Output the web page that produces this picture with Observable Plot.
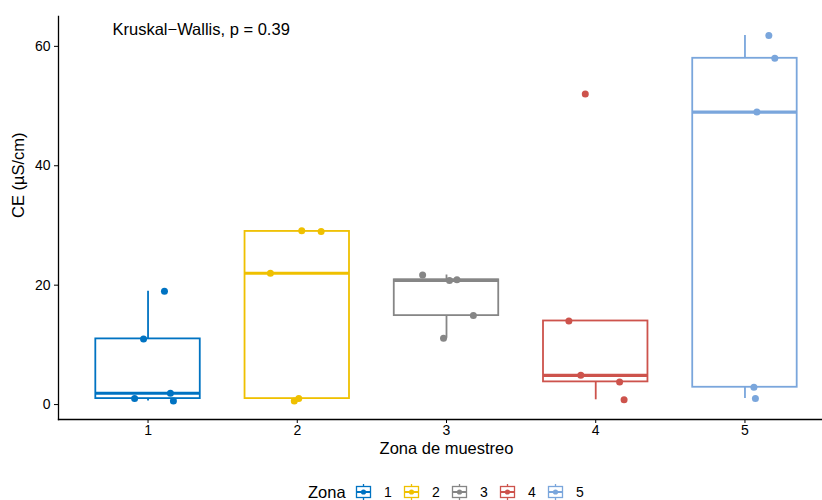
<!DOCTYPE html>
<html>
<head>
<meta charset="utf-8">
<script src="https://cdn.jsdelivr.net/npm/d3@7"></script>
<script src="https://cdn.jsdelivr.net/npm/@observablehq/plot@0.6"></script>
<style>
  html, body { margin: 0; padding: 0; background: #fff; overflow: hidden; }
  body { font-family: "Liberation Sans", Arial, sans-serif; }
  #chart svg, #legend svg { display: block; }
</style>
</head>
<body>
<div id="chart"></div>
<div id="legend"></div>
<script>
// ---- data ----
const zones = ["1", "2", "3", "4", "5"];
const colors = ["#0073C2", "#EFC000", "#868686", "#CD534C", "#7AA6DC"];
const zona1 = [19, 11, 1.0, 1.9, 0.6];
const zona2 = [29.1, 29.0, 22, 0.6, 1.0];
const zona3 = [21.7, 20.8, 20.9, 14.9, 11.1];
const zona4 = [52, 14, 4.9, 3.8, 0.8];
const zona5 = [61.8, 58, 49, 2.9, 1.0];
// horizontal jitter of each point (in category units)
const jitter1 = [0.11, -0.03, -0.09, 0.15, 0.17];
const jitter2 = [0.03, 0.16, -0.18, -0.02, 0.01];
const jitter3 = [-0.16, 0.02, 0.07, 0.18, -0.02];
const jitter4 = [-0.07, -0.18, -0.10, 0.16, 0.19];
const jitter5 = [0.16, 0.20, 0.08, 0.06, 0.07];
const yTicks = [0, 20, 40, 60];
const xTitle = "Zona de muestreo";
const yTitle = "CE (µS/cm)";
const legendTitle = "Zona";
const testLabel = "Kruskal\u2212Wallis, p = 0.39";

const groups = [zona1, zona2, zona3, zona4, zona5];
const jitters = [jitter1, jitter2, jitter3, jitter4, jitter5];
const positions = zones.map((z, i) => i + 1);
const boxHalf = 0.35;

const points = zones.flatMap((z, i) =>
  groups[i].map((v, j) => ({zona: z, x: positions[i] + jitters[i][j], value: v})));

const stats = zones.map((z, i) => {
  const s = groups[i].slice().sort(d3.ascending);
  const q1 = d3.quantile(s, 0.25), med = d3.quantile(s, 0.5), q3 = d3.quantile(s, 0.75);
  const iqr = q3 - q1;
  const lo = d3.min(s.filter(v => v >= q1 - 1.5 * iqr));
  const hi = d3.max(s.filter(v => v <= q3 + 1.5 * iqr));
  return {zona: z, pos: positions[i], x1: positions[i] - boxHalf, x2: positions[i] + boxHalf, q1, med, q3, lo, hi};
});

const font = "'Liberation Sans', Arial, sans-serif";

const chart = Plot.plot({
  width: 822,
  height: 466,
  marginLeft: 58,
  marginRight: 0,
  marginTop: 16,
  marginBottom: 47,
  style: {fontFamily: font, fontSize: "14px", color: "#000", background: "#fff"},
  x: {domain: [0.4, 5.6], range: [58, 834]},
  y: {domain: [-2.5, 65]},
  color: {domain: zones, range: colors},
  marks: [
    Plot.ruleX(stats, {x: "pos", y1: "q3", y2: "hi", stroke: "zona", strokeWidth: 1.8}),
    Plot.ruleX(stats, {x: "pos", y1: "lo", y2: "q1", stroke: "zona", strokeWidth: 1.8}),
    Plot.rect(stats, {x1: "x1", x2: "x2", y1: "q1", y2: "q3", fill: "white", stroke: "zona", strokeWidth: 1.8}),
    Plot.ruleY(stats, {y: "med", x1: "x1", x2: "x2", stroke: "zona", strokeWidth: 3.2}),
    Plot.dot(points, {x: "x", y: "value", fill: "zona", r: 3.5}),
    Plot.axisY({ticks: yTicks, tickSize: 4, tickPadding: 4, label: null, fontSize: 14}),
    Plot.axisX({ticks: positions, tickFormat: (d, i) => zones[i], tickSize: 4, tickPadding: 2, label: null, fontSize: 14}),
    Plot.frame({anchor: "left", strokeWidth: 1.3}),
    Plot.frame({anchor: "bottom", strokeWidth: 1.3}),
    Plot.text([{label: xTitle, x: d3.mean(positions)}], {x: "x", text: "label", frameAnchor: "bottom", dy: 34, fontSize: 16.5}),
    Plot.text([yTitle], {frameAnchor: "left", dx: -40, rotate: -90, fontSize: 16.5}),
    Plot.text([testLabel], {frameAnchor: "top-left", dx: 54, dy: 7, textAnchor: "start", lineAnchor: "top", fontSize: 16.5})
  ]
});
document.getElementById("chart").appendChild(chart);

// ---- legend ----
const lg = d3.select("#legend").append("svg")
  .attr("width", 822).attr("height", 34)
  .style("font-family", font);
lg.append("text").attr("x", 308).attr("y", 26).attr("dy", "0.35em")
  .attr("font-size", 16.5).attr("fill", "#000").text(legendTitle);
const item = lg.selectAll("g.item").data(zones).join("g")
  .attr("class", "item")
  .attr("transform", (d, i) => `translate(${355 + 48 * i},17)`);
item.append("line").attr("x1", 8.5).attr("x2", 8.5).attr("y1", 1).attr("y2", 17)
  .attr("stroke", (d, i) => colors[i]).attr("stroke-width", 1.3);
item.append("rect").attr("x", 1.5).attr("y", 3.5).attr("width", 14).attr("height", 11)
  .attr("fill", "white").attr("stroke", (d, i) => colors[i]).attr("stroke-width", 1.3);
item.append("line").attr("x1", 1.5).attr("x2", 15.5).attr("y1", 9).attr("y2", 9)
  .attr("stroke", (d, i) => colors[i]).attr("stroke-width", 2);
item.append("circle").attr("cx", 8.5).attr("cy", 9).attr("r", 2.6)
  .attr("fill", (d, i) => colors[i]);
item.append("text").attr("x", 29).attr("y", 9).attr("dy", "0.35em")
  .attr("font-size", 14).attr("fill", "#000").text(d => d);
</script>
</body>
</html>
